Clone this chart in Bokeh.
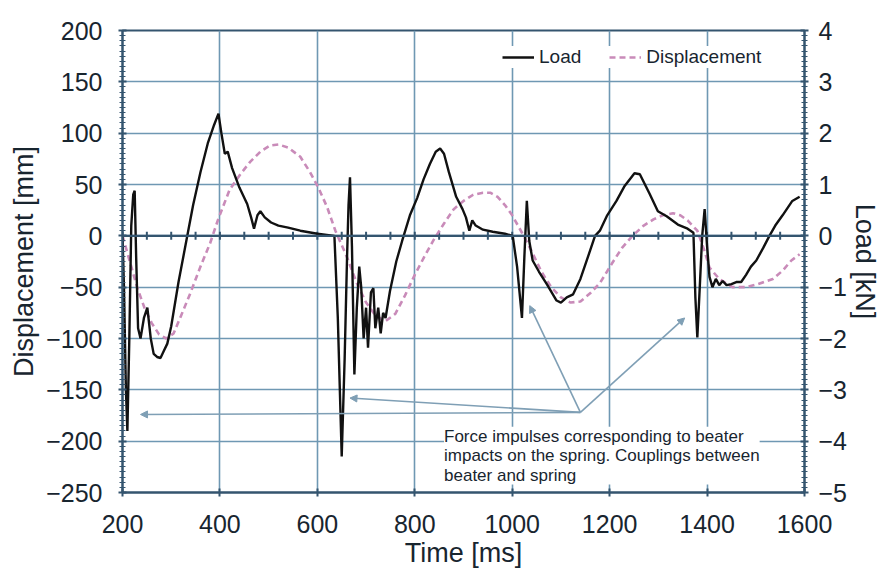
import numpy as np
from bokeh.plotting import figure
from bokeh.models import (Range1d, LinearAxis, SingleIntervalTicker, Span, Label,
                          Arrow, NormalHead, Legend, LegendItem)
from bokeh.embed import file_html
from bokeh.resources import INLINE

# ---- data ----
load_t = [200, 203, 207, 210, 214, 218, 222, 225, 228, 232, 237, 244, 251, 258, 264, 271, 278, 285, 292, 300,
          315, 333, 345, 360, 375, 388, 397, 403, 410, 416, 425, 440, 456, 464, 470, 477, 483, 492, 505, 520,
          540, 565, 600, 635, 642, 650, 656, 661, 664, 667, 671, 676, 681, 686, 690, 695, 700, 704, 710, 715,
          719, 725, 730, 735, 740, 749, 762, 774, 790, 805, 818, 831, 843, 852, 860, 870, 885, 898, 905, 912,
          918, 925, 940, 960, 985, 1001, 1010, 1020, 1025, 1030, 1035, 1042, 1055, 1071, 1091, 1100, 1112, 1125,
          1140, 1153, 1170, 1180, 1195, 1214, 1230, 1251, 1262, 1282, 1299, 1317, 1340, 1360, 1372, 1376, 1380,
          1385, 1390, 1395, 1400, 1405, 1411, 1418, 1425, 1432, 1440, 1450, 1460, 1470, 1480, 1490, 1501, 1515,
          1528, 1540, 1555, 1565, 1575, 1590]
load_kN = [0.0, -1.0, -3.0, -3.8, -2.0, 0.2, 0.8, 0.88, -0.4, -1.8, -2.0, -1.6, -1.4, -2.0, -2.3, -2.36, -2.38, -2.24, -2.1, -1.76,
           -0.9, 0.0, 0.6, 1.24, 1.8, 2.16, 2.38, 2.0, 1.6, 1.64, 1.32, 0.94, 0.62, 0.36, 0.14, 0.4, 0.48, 0.36, 0.26, 0.2,
           0.16, 0.1, 0.04, 0.0, -1.6, -4.3, -2.4, -0.4, 0.6, 1.14, -0.2, -2.7, -1.4, -0.6, -1.0, -2.0, -1.4, -2.18, -1.1, -1.02,
           -1.8, -1.4, -1.9, -1.5, -1.6, -1.08, -0.5, -0.1, 0.4, 0.74, 1.1, 1.4, 1.64, 1.7, 1.6, 1.24, 0.76, 0.52, 0.36, 0.1,
           0.3, 0.2, 0.12, 0.08, 0.04, 0.0, -0.6, -1.6, -0.4, 0.68, -0.1, -0.48, -0.7, -0.94, -1.26, -1.3, -1.2, -1.14,
           -0.84, -0.48, 0.0, 0.1, 0.4, 0.68, 0.96, 1.22, 1.2, 0.82, 0.48, 0.38, 0.22, 0.14, 0.06, -1.2, -1.98,
           -1.0, 0.0, 0.52, -0.2, -0.8, -1.0, -0.84, -0.96, -0.88, -0.96, -0.94, -0.9, -0.9, -0.76, -0.6, -0.48, -0.24,
           0.0, 0.2, 0.4, 0.54, 0.68, 0.76]

disp_t = [200, 215, 230, 245, 260, 275, 290, 305, 320, 340, 360, 380, 397, 420, 442, 462, 483, 503, 520, 540,
          565, 585, 602, 620, 637, 661, 680, 700, 720, 740, 760, 780, 800, 820, 840, 860, 880, 900, 920, 940,
          955, 970, 985, 1000, 1020, 1040, 1060, 1080, 1100, 1120, 1140, 1160, 1180, 1206, 1225, 1247, 1270, 1290,
          1309, 1330, 1345, 1360, 1380, 1395, 1405, 1425, 1452, 1480, 1505, 1535, 1555, 1573, 1590]
disp_mm = [0, -25, -50, -70, -85, -96, -100, -95, -78, -55, -30, -7, 17, 45, 60, 72, 82, 88, 89, 86,
           77, 62, 47, 28, 5, -21, -45, -65, -78, -83, -76, -58, -38, -20, -3, 12, 26, 34, 40, 42,
           42, 38, 30, 20, 3, -15, -35, -50, -60, -65, -64, -56, -46, -26, -12, 0, 10, 16,
           20, 22, 20, 15, 5, -15, -31, -42, -50, -50, -47, -42, -34, -24, -18]

x_ticks = [200, 400, 600, 800, 1000, 1200, 1400, 1600]
disp_ticks = [-250, -200, -150, -100, -50, 0, 50, 100, 150, 200]
load_ticks = [-5, -4, -3, -2, -1, 0, 1, 2, 3, 4]

note_text = "Force impulses corresponding to beater\nimpacts on the spring. Couplings between\nbeater and spring"
note_anchor = (860, -186)
arrow_start = (1140, -172)
arrow_targets_t = [237, 667, 1036, 1354]
arrow_targets_mm = [-174, -158, -68, -80]

# ---- styles ----
TXT = "#18252f"
GRID = "#6f98b3"
AX = "#34556f"
FONT = "Liberation Sans"

p = figure(width=883, height=575, output_backend="svg", toolbar_location=None,
           x_range=Range1d(x_ticks[0], x_ticks[-1]), y_range=Range1d(disp_ticks[0], disp_ticks[-1]),
           min_border_left=122, min_border_right=78, min_border_top=30, min_border_bottom=83,
           y_axis_location=None, x_axis_location=None)
p.extra_y_ranges = {"load": Range1d(load_ticks[0], load_ticks[-1])}
p.background_fill_color = "white"
p.border_fill_color = "white"
p.outline_line_color = AX
p.outline_line_width = 2

def style_axis(ax):
    ax.axis_line_color = AX
    ax.axis_line_width = 2
    ax.major_tick_line_color = AX
    ax.major_tick_line_width = 2
    ax.minor_tick_line_color = AX
    ax.major_tick_in = 4
    ax.major_tick_out = 4
    ax.minor_tick_in = 3
    ax.minor_tick_out = 3
    ax.major_label_text_font = FONT
    ax.major_label_text_font_size = "25px"
    ax.major_label_text_color = TXT
    ax.axis_label_text_font = FONT
    ax.axis_label_text_font_size = "27px"
    ax.axis_label_text_font_style = "normal"
    ax.axis_label_text_color = TXT

xax = LinearAxis(ticker=SingleIntervalTicker(interval=200, num_minor_ticks=0), axis_label="Time [ms]")
style_axis(xax)
xax.major_label_standoff = 18
xax.axis_label_standoff = 2
p.add_layout(xax, "below")

lax = LinearAxis(ticker=SingleIntervalTicker(interval=50, num_minor_ticks=10), axis_label="Displacement [mm]")
style_axis(lax)
lax.major_label_standoff = 16
lax.axis_label_standoff = 4
p.add_layout(lax, "left")

rax = LinearAxis(y_range_name="load", ticker=SingleIntervalTicker(interval=1, num_minor_ticks=10), axis_label="Load [kN]")
style_axis(rax)
rax.major_label_standoff = 10
rax.axis_label_standoff = 0
p.add_layout(rax, "right")

p.xgrid.ticker = SingleIntervalTicker(interval=200)
p.ygrid.ticker = SingleIntervalTicker(interval=50)
p.xgrid.grid_line_color = GRID
p.ygrid.grid_line_color = GRID
p.xgrid.grid_line_width = 1.6
p.ygrid.grid_line_width = 1.6

# zero line with small ticks
p.add_layout(Span(location=0, dimension="width", line_color=AX, line_width=2.2))
zt = np.arange(x_ticks[0], x_ticks[-1] + 1, 50)
p.scatter(zt, np.zeros_like(zt), marker="dash", angle=np.pi / 2, size=8, line_color=AX, line_width=2)

disp_r = p.line(disp_t, disp_mm, line_color="#c98bb9", line_width=2.6, line_dash="6 4")
load_r = p.line(load_t, load_kN, y_range_name="load", line_color="#111111", line_width=2.4)

legend = Legend(items=[LegendItem(label="Load", renderers=[load_r]),
                       LegendItem(label="Displacement", renderers=[disp_r])],
                orientation="horizontal", location=(380, 424),
                label_text_font=FONT, label_text_font_size="19px", label_text_color=TXT,
                glyph_width=32, spacing=28, padding=4, margin=0,
                border_line_color=None, background_fill_color="white", background_fill_alpha=1)
p.add_layout(legend)

for tt, mm in zip(arrow_targets_t, arrow_targets_mm):
    p.add_layout(Arrow(end=NormalHead(size=7, fill_color="#7f9fb5", line_color="#7f9fb5"),
                       x_start=arrow_start[0], y_start=arrow_start[1], x_end=tt, y_end=mm,
                       line_color="#7f9fb5", line_width=1.6))

p.add_layout(Label(x=note_anchor[0], y=note_anchor[1], text=note_text, text_baseline="top",
                   text_font=FONT, text_font_size="17px", text_color=TXT, text_line_height=1.02,
                   background_fill_color="white", background_fill_alpha=1))

open("out.html", "w").write(file_html(p, INLINE))
